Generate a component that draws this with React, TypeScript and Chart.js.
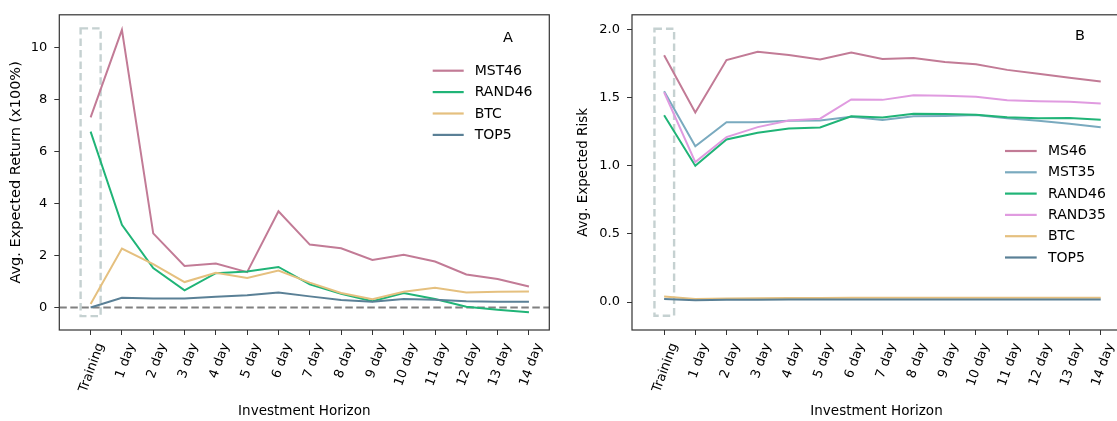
import React, { useEffect, useRef } from 'react';
import { Chart, registerables } from 'chart.js';

Chart.register(...registerables);

// ---------- data ----------
const categories = ['Training', '1 day', '2 day', '3 day', '4 day', '5 day', '6 day', '7 day', '8 day', '9 day', '10 day', '11 day', '12 day', '13 day', '14 day'];

const yTicksA = [0, 2, 4, 6, 8, 10];
const yTicksB = [0, 0.5, 1.0, 1.5, 2.0];

// Panel A: Avg. Expected Return (x100%)
const mst46A = [7.31, 10.67, 2.85, 1.60, 1.69, 1.36, 3.70, 2.42, 2.28, 1.83, 2.03, 1.77, 1.27, 1.10, 0.81];
const rand46A = [6.76, 3.18, 1.52, 0.66, 1.32, 1.39, 1.56, 0.89, 0.53, 0.24, 0.56, 0.33, 0.03, -0.08, -0.18];
const btcA = [0.14, 2.27, 1.67, 0.98, 1.34, 1.14, 1.42, 0.96, 0.56, 0.32, 0.61, 0.76, 0.58, 0.61, 0.62];
const top5A = [0.0, 0.38, 0.35, 0.35, 0.42, 0.47, 0.58, 0.43, 0.29, 0.22, 0.33, 0.30, 0.24, 0.22, 0.22];

// Panel B: Avg. Expected Risk
const ms46B = [1.81, 1.39, 1.775, 1.836, 1.812, 1.78, 1.831, 1.783, 1.79, 1.761, 1.744, 1.703, 1.674, 1.645, 1.618];
const mst35B = [1.546, 1.143, 1.319, 1.319, 1.329, 1.331, 1.36, 1.336, 1.362, 1.365, 1.372, 1.348, 1.329, 1.307, 1.283];
const rand46B = [1.37, 1.0, 1.193, 1.242, 1.273, 1.28, 1.362, 1.353, 1.382, 1.379, 1.374, 1.355, 1.348, 1.35, 1.338];
const rand35B = [1.539, 1.027, 1.21, 1.283, 1.331, 1.345, 1.486, 1.483, 1.517, 1.514, 1.505, 1.481, 1.473, 1.469, 1.457];
const btcB = [0.04, 0.022, 0.026, 0.028, 0.029, 0.03, 0.031, 0.031, 0.032, 0.032, 0.032, 0.032, 0.032, 0.032, 0.032];
const top5B = [0.022, 0.013, 0.016, 0.017, 0.018, 0.018, 0.019, 0.019, 0.019, 0.019, 0.019, 0.019, 0.019, 0.019, 0.019];

// highlight box around the Training column (data units)
const boxA = { x0: -0.32, x1: 0.32, y0: -0.33, y1: 10.73 };
const boxB = { x0: -0.31, x1: 0.32, y0: -0.1, y1: 2.005 };

// ---------- styles ----------
const FONT = "'DejaVu Sans', sans-serif";
const TICK_SIZE = 13;
const TITLE_SIZE = 13.5;
const LEGEND_SIZE = 14;
const PANEL_SIZE = 14.5;
const C = {
  ms: '#c27b96',
  mst35: '#7aaabf',
  rand46: '#20b477',
  rand35: '#e09be0',
  btc: '#e5c07f',
  top5: '#5a8096',
};

type SeriesDef = { label: string; values: number[]; color: string };

const seriesA: SeriesDef[] = [
  { label: 'MST46', values: mst46A, color: C.ms },
  { label: 'RAND46', values: rand46A, color: C.rand46 },
  { label: 'BTC', values: btcA, color: C.btc },
  { label: 'TOP5', values: top5A, color: C.top5 },
];
const seriesB: SeriesDef[] = [
  { label: 'MS46', values: ms46B, color: C.ms },
  { label: 'MST35', values: mst35B, color: C.mst35 },
  { label: 'RAND46', values: rand46B, color: C.rand46 },
  { label: 'RAND35', values: rand35B, color: C.rand35 },
  { label: 'BTC', values: btcB, color: C.btc },
  { label: 'TOP5', values: top5B, color: C.top5 },
];

const decorPlugin = {
  id: 'decor',
  beforeDatasetsDraw(chart: any, _args: any, opts: any) {
    const { ctx, chartArea: a, scales } = chart;
    const xs = scales.x, ys = scales.y;
    ctx.save();
    ctx.beginPath();
    ctx.rect(a.left, a.top, a.right - a.left, a.bottom - a.top);
    ctx.clip();
    if (opts.zeroLine) {
      const y0 = ys.getPixelForValue(0);
      ctx.strokeStyle = '#808080';
      ctx.lineWidth = 2;
      ctx.setLineDash([7.5, 3.5]);
      ctx.beginPath();
      ctx.moveTo(a.left, y0);
      ctx.lineTo(a.right, y0);
      ctx.stroke();
    }
    if (opts.box) {
      const b = opts.box;
      const l = xs.getPixelForValue(b.x0), r = xs.getPixelForValue(b.x1);
      const t = ys.getPixelForValue(b.y1), bt = ys.getPixelForValue(b.y0);
      ctx.strokeStyle = '#c5d1d1';
      ctx.lineWidth = 2.4;
      ctx.setLineDash([7.5, 4]);
      ctx.beginPath();
      ctx.rect(l, t, r - l, bt - t);
      ctx.stroke();
    }
    ctx.restore();
  },
  afterDatasetsDraw(chart: any) {
    const { ctx, chartArea: a } = chart;
    ctx.save();
    ctx.strokeStyle = '#333333';
    ctx.lineWidth = 1.2;
    ctx.setLineDash([]);
    ctx.strokeRect(a.left, a.top, a.right - a.left, a.bottom - a.top);
    ctx.restore();
  },
  afterDraw(chart: any, _args: any, opts: any) {
    const { ctx } = chart;
    ctx.save();
    if (opts.panel) {
      ctx.font = `${PANEL_SIZE}px ${FONT}`;
      ctx.fillStyle = '#000';
      ctx.textAlign = 'center';
      ctx.textBaseline = 'middle';
      ctx.fillText(opts.panel.text, opts.panel.x, opts.panel.y);
    }
    if (opts.legend) {
      const lg = opts.legend;
      ctx.font = `${LEGEND_SIZE}px ${FONT}`;
      ctx.textAlign = 'left';
      ctx.textBaseline = 'middle';
      chart.data.datasets.forEach((ds: any, i: number) => {
        const y = lg.y + i * lg.rowH;
        ctx.strokeStyle = ds.borderColor;
        ctx.lineWidth = 2.2;
        ctx.setLineDash([]);
        ctx.beginPath();
        ctx.moveTo(lg.x, y);
        ctx.lineTo(lg.x + lg.len, y);
        ctx.stroke();
        ctx.fillStyle = '#000';
        ctx.fillText(ds.label, lg.x + lg.len + lg.gap, y + 0.5);
      });
    }
    ctx.restore();
  },
};

function buildConfig(p: {
  series: SeriesDef[];
  yTicks: number[];
  yFmt: (v: number) => string;
  yMin: number; yMax: number;
  xMin: number; xMax: number;
  yAxisWidth: number; padRight: number;
  yTitle: string; yTitlePad: number; yTitleSize: number;
  box: any; zeroLine: boolean; panel: any; legend: any;
}): any {
  const n = p.series.length;
  return {
    type: 'line',
    data: {
      datasets: p.series.map((s, i) => ({
        label: s.label,
        data: s.values.map((v, j) => ({ x: j, y: v })),
        borderColor: s.color,
        backgroundColor: s.color,
        borderWidth: 2,
        pointRadius: 0,
        pointHoverRadius: 0,
        tension: 0,
        fill: false,
        order: n - i,
      })),
    },
    options: {
      responsive: false,
      animation: false,
      events: [],
      layout: { padding: { left: 0, right: p.padRight, top: 11, bottom: 0 } },
      plugins: {
        legend: { display: false },
        tooltip: { enabled: false },
        decor: { box: p.box, zeroLine: p.zeroLine, panel: p.panel, legend: p.legend },
      },
      scales: {
        x: {
          type: 'linear',
          min: p.xMin,
          max: p.xMax,
          afterBuildTicks: (scale: any) => {
            scale.ticks = categories.map((_, i) => ({ value: i }));
          },
          afterFit: (scale: any) => { scale.height = 91; },
          ticks: {
            autoSkip: false,
            maxRotation: 70,
            minRotation: 70,
            labelOffset: 10,
            padding: 6,
            color: '#000',
            font: { family: FONT, size: TICK_SIZE },
            callback: (v: number) => categories[v] ?? '',
          },
          grid: { drawOnChartArea: false, drawTicks: true, tickLength: 5, tickColor: '#333', tickWidth: 1 },
          border: { display: false },
          title: {
            display: true,
            text: 'Investment Horizon',
            color: '#000',
            font: { family: FONT, size: TITLE_SIZE },
            padding: { top: 0, bottom: 1.5 },
          },
        },
        y: {
          type: 'linear',
          min: p.yMin,
          max: p.yMax,
          afterBuildTicks: (scale: any) => {
            scale.ticks = p.yTicks.map((v) => ({ value: v }));
          },
          afterFit: (scale: any) => { scale.width = p.yAxisWidth; },
          ticks: {
            padding: 7,
            color: '#000',
            font: { family: FONT, size: TICK_SIZE },
            callback: (v: number) => p.yFmt(v),
          },
          grid: { drawOnChartArea: false, drawTicks: true, tickLength: 5, tickColor: '#333', tickWidth: 1 },
          border: { display: false },
          title: {
            display: true,
            text: p.yTitle,
            color: '#000',
            font: { family: FONT, size: p.yTitleSize },
            padding: { top: p.yTitlePad, bottom: 0 },
          },
        },
      },
    },
    plugins: [decorPlugin],
  };
}

function Panel(props: { cfg: any; width: number; height: number; left: number }) {
  const ref = useRef<HTMLCanvasElement | null>(null);
  useEffect(() => {
    if (!ref.current) return;
    const chart = new Chart(ref.current, props.cfg);
    return () => chart.destroy();
  }, []);
  return (
    <canvas
      ref={ref}
      width={props.width}
      height={props.height}
      style={{ position: 'absolute', left: props.left, top: 0, width: props.width, height: props.height }}
    />
  );
}

export default function App() {
  const cfgA = buildConfig({
    series: seriesA,
    yTicks: yTicksA,
    yFmt: (v) => String(v),
    yMin: -0.862, yMax: 11.25,
    xMin: -1.0, xMax: 14.65,
    yAxisWidth: 59.3, padRight: 10.7,
    yTitle: 'Avg. Expected Return (x100%)', yTitlePad: 7.5, yTitleSize: 14.5,
    box: boxA, zeroLine: true,
    panel: { text: 'A', x: 508, y: 38 },
    legend: { x: 432.7, y: 70.7, rowH: 21.4, len: 31, gap: 11 },
  });
  const cfgB = buildConfig({
    series: seriesB,
    yTicks: yTicksB,
    yFmt: (v) => v.toFixed(1),
    yMin: -0.205, yMax: 2.107,
    xMin: -1.03, xMax: 14.65,
    yAxisWidth: 72, padRight: 14,
    yTitle: 'Avg. Expected Risk', yTitlePad: 15.3, yTitleSize: 13.5,
    box: boxB, zeroLine: false,
    panel: { text: 'B', x: 520, y: 36.7 },
    legend: { x: 445, y: 151, rowH: 21.3, len: 31.7, gap: 11.3 },
  });
  return (
    <div style={{ position: 'absolute', left: 0, top: 0, width: 1117, height: 421, overflow: 'hidden', background: '#fff' }}>
      <Panel cfg={cfgA} width={560} height={421} left={0} />
      <Panel cfg={cfgB} width={575} height={421} left={560} />
    </div>
  );
}
